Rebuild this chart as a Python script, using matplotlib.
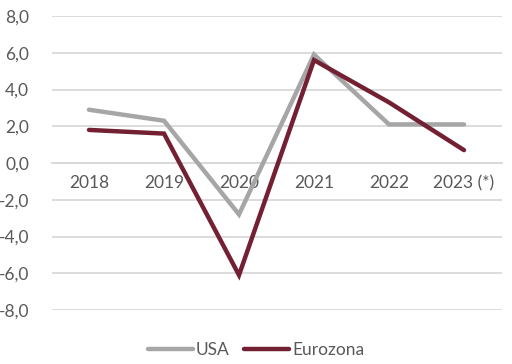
import matplotlib
matplotlib.use("Agg")
import matplotlib.pyplot as plt
from matplotlib.ticker import FuncFormatter

years = ["2018", "2019", "2020", "2021", "2022", "2023 (*)"]
usa = [2.9, 2.3, -2.8, 5.9, 2.1, 2.1]
eurozona = [1.8, 1.6, -6.1, 5.6, 3.3, 0.7]

plt.rcParams['font.family'] = ['Lato', 'DejaVu Sans']
txt = '#595959'

fig = plt.figure(figsize=(5.12, 3.64), dpi=100)
ax = fig.add_axes([51.5/512, 1 - 310/364, 450/512, 294/364])

x = list(range(len(years)))
ax.plot(x, usa, color='#A6A6A6', lw=3.2, solid_capstyle='round', solid_joinstyle='miter', label='USA', zorder=3)
ax.plot(x, eurozona, color='#722032', lw=3.2, solid_capstyle='round', solid_joinstyle='miter', label='Eurozona', zorder=4)

ax.set_xlim(-0.5, len(years) - 0.5)
ax.set_ylim(-8, 8)
ax.set_yticks(range(-8, 9, 2))
ax.yaxis.set_major_formatter(FuncFormatter(lambda v, p: f"{v:.1f}".replace('.', ',')))
ax.grid(axis='y', color='#D9D9D9', lw=1.3)
ax.set_axisbelow(True)
for s in ['top', 'right', 'left']:
    ax.spines[s].set_visible(False)
ax.spines['bottom'].set_position(('data', 0))
ax.spines['bottom'].set_color('#D9D9D9')
ax.spines['bottom'].set_linewidth(1.3)
ax.set_xticks(x)
ax.set_xticklabels(years)
ax.tick_params(axis='x', length=0, pad=9, labelsize=12.5, labelcolor=txt)
ax.tick_params(axis='y', length=0, pad=16, labelsize=12.5, labelcolor=txt)

leg = fig.legend(loc='center', bbox_to_anchor=(0.5, 1 - 350/364), ncol=2, frameon=False,
                 fontsize=12.5, handlelength=2.6, columnspacing=0.8, handletextpad=0.2)
for t in leg.get_texts():
    t.set_color(txt)

fig.savefig('out.png', dpi=100)
